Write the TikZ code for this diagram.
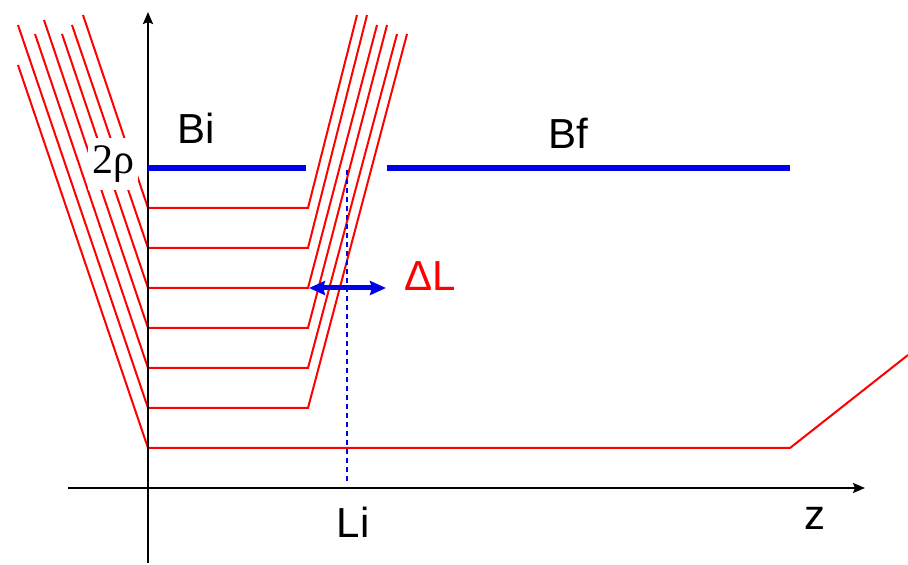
\documentclass[tikz,border=0pt]{standalone}
\usepackage{fontspec}
\setmainfont{Liberation Sans}
\newfontfamily\rhofont{Liberation Serif}
\definecolor{fldred}{RGB}{255,0,0}
\definecolor{fldblue}{RGB}{0,0,235}
\usetikzlibrary{arrows.meta}
\tikzset{
  redline/.style={draw=fldred, line width=1pt, line join=miter},
  fieldbar/.style={draw=fldblue, line width=3pt},
  axisline/.style={draw=black, line width=1.1pt, -{Stealth[length=6pt,width=5pt,inset=1pt]}},
  lbl/.style={font=\fontsize{21}{25}\selectfont, inner sep=1pt},
}

\begin{document}
\begin{tikzpicture}[x=0.5pt,y=-0.5pt]
  \useasboundingbox (0,0) rectangle (908,565);

  %% --- FIELD LINES (red) ---
  \draw[redline] (18,65) -- (148,448) -- (790,448) -- (908,355);
  \draw[redline] (18,25) -- (148,408) -- (308,408) -- (407,34);
  \draw[redline] (35,34) -- (148,368) -- (308,368) -- (397,34);
  \draw[redline] (44,20) -- (148,328) -- (308,328) -- (387,25);
  \draw[redline] (62,34) -- (148,288) -- (308,288) -- (377,25);
  \draw[redline] (72,25) -- (148,248) -- (308,248) -- (367,15);
  \draw[redline] (83,15) -- (148,208) -- (308,208) -- (357,15);

  %% --- AXES ---
  \draw[axisline] (148,563) -- (148,12);
  \draw[axisline] (68,488) -- (865,488);

  %% --- FIELD LEVELS (blue) ---
  \draw[fieldbar] (148,168) -- (306,168);
  \draw[fieldbar] (387,168) -- (790,168);

  %% --- Li MARKER & DELTA L ---
  \coordinate (litop) at (347,170);
  \coordinate (libot) at (347,483);
  \draw[draw=fldblue, line width=1.3pt, dash pattern=on 2.5pt off 2pt] (litop) -- (libot);
  \coordinate (dlL) at (309,288);
  \coordinate (dlR) at (386,288);
  \draw[draw=fldblue, line width=2.5pt, {Stealth[length=8pt,width=7pt,inset=1pt]}-{Stealth[length=8pt,width=7pt,inset=1pt]}] (dlL) -- (dlR);

  %% --- LABELS ---
  \node[lbl] (bi)  at (196,128) {Bi};
  \node[lbl] (bf)  at (568,133) {Bf};
  \node[lbl, fill=white, inner xsep=2pt, inner ysep=4pt] (rho) at (113,164) {\rhofont 2ρ};
  \node[lbl, text=fldred] (dl) at (430,276) {ΔL};
  \node[lbl] (li)  at (353,522) {Li};
  \node[lbl] (z)   at (815,518) {z};
\end{tikzpicture}
\end{document}
